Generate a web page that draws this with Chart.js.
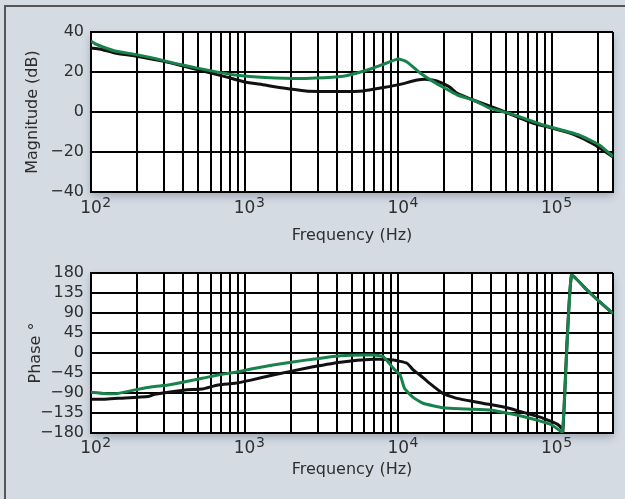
<!DOCTYPE html>
<html>
<head>
<meta charset="utf-8">
<script src="https://cdn.jsdelivr.net/npm/chart.js@4.4.0/dist/chart.umd.min.js"></script>
<style>
  html, body { margin: 0; padding: 0; }
  body { width: 625px; height: 499px; background: #d4dbe3; position: relative; overflow: hidden; }
  .linea { position: absolute; background: #555; }
  #linea-sup { left: 4px; top: 5px; width: 621px; height: 2px; }
  #linea-izq { left: 4px; top: 5px; width: 2px; height: 494px; }
  canvas { position: absolute; left: 0; }
  #mag { top: 0; }
  #phase { top: 250px; }
</style>
</head>
<body>
<div class="linea" id="linea-sup"></div>
<div class="linea" id="linea-izq"></div>
<canvas id="mag" width="625" height="250"></canvas>
<canvas id="phase" width="625" height="249"></canvas>
<script>
// Datos (frecuencia en Hz)
const magFreqBlack = [100, 114, 143, 194, 303, 410, 552, 745, 1000, 1360, 1530, 2500, 4200, 5900, 8000, 10300, 13300, 15500, 17800, 21400, 24200, 30700, 46000, 75000, 100000, 137000, 186000, 250000]
const magBlack = [32, 31.5, 29.5, 28, 25.2, 22.7, 20.2, 17.7, 15, 13.5, 12.7, 10.5, 10.2, 10.5, 12.2, 13.8, 16, 16.3, 15.5, 12.7, 9.3, 6, 1, -5.5, -8, -11, -16, -22.5]

const magFreqGreen = [100, 107, 143, 194, 260, 352, 476, 642, 866, 1360, 2500, 4200, 5400, 6900, 8400, 10000, 11400, 13900, 16900, 20000, 24200, 30700, 39600, 53000, 88000, 150000, 204000, 250000]
const magGreen = [35.5, 34, 30.5, 28.8, 26.8, 24.3, 22.2, 20.2, 18.5, 17.3, 16.8, 17.7, 19.5, 22, 24.5, 26.5, 25, 19.5, 15.2, 12, 8.5, 6, 1.8, -0.7, -6.5, -11.5, -16.5, -22.3]

const phaseFreqBlack = [100, 123, 150, 235, 260, 410, 530, 670, 866, 1100, 1530, 2500, 4200, 6900, 9300, 11400, 12500, 13900, 15500, 19500, 24200, 35500, 51000, 69000, 88000, 109000, 116000, 118000, 134000, 169000, 204000, 250000]
const phaseBlack = [-104, -104, -102, -98, -93, -83, -81, -72, -68, -61, -49.5, -34.5, -21, -14.3, -15.8, -23, -38, -50, -64.5, -90.8, -102, -113, -123, -136, -147, -160.5, -170, -177, 174, 142, 115.5, 89]

const phaseFreqGreen = [100, 120, 150, 194, 250, 318, 410, 530, 670, 866, 1100, 1530, 2500, 4200, 6900, 8000, 9300, 10300, 11000, 12500, 14500, 19500, 27900, 39800, 56000, 80000, 100000, 117000, 134000, 169000, 204000, 250000]
const phaseGreen = [-88.5, -91, -91, -83, -76, -72, -64.5, -57, -49.5, -43.5, -36, -27, -16, -6, -4.5, -8.3, -34.5, -50, -80, -100, -113, -123, -126, -128, -138, -151, -162, -178, 174, 142, 115.5, 89]

// Rejilla logarítmica y etiquetas
const gridFreqs = [100, 200, 300, 400, 500, 600, 700, 800, 900,
  1000, 2000, 3000, 4000, 5000, 6000, 7000, 8000, 9000,
  10000, 20000, 30000, 40000, 50000, 60000, 70000, 80000, 90000,
  100000, 200000, 250000]
const decades = [100, 1000, 10000, 100000]
const decadeExps = ["2", "3", "4", "5"]

const textColor = "#2e2e2e"
const fontFamily = "'DejaVu Sans', sans-serif"
const black = "#111111"
const green = "#17834a"

const fondoGrafica = {
  id: "fondoGrafica",
  beforeDraw(chart) {
    const { ctx, chartArea: a } = chart
    ctx.save()
    ctx.shadowColor = "rgba(60,70,90,0.35)"
    ctx.shadowBlur = 8
    ctx.shadowOffsetY = 4
    ctx.fillStyle = "#ffffff"
    ctx.fillRect(a.left, a.top, a.right - a.left, a.bottom - a.top)
    ctx.restore()
  }
}

// exponentes de las etiquetas 10^n
function exponentes(pad) {
  return {
    id: "exponentes",
    afterDraw(chart) {
      const { ctx } = chart
      const escala = chart.scales.x
      ctx.save()
      ctx.font = `17px ${fontFamily}`
      const ancho = ctx.measureText("10").width
      ctx.font = `14px ${fontFamily}`
      ctx.fillStyle = textColor
      ctx.textAlign = "left"
      ctx.textBaseline = "alphabetic"
      const base = escala.top + pad + 10.2 + 6.2 - 7
      decades.forEach((v, i) => {
        ctx.fillText(decadeExps[i], escala.getPixelForValue(v) + ancho / 2 + 0.5, base)
      })
      ctx.restore()
    }
  }
}

function puntos(freqs, valores) {
  return freqs.map((f, i) => ({ x: f, y: valores[i] }))
}

function serie(freqs, valores, color) {
  return {
    data: puntos(freqs, valores),
    borderColor: color,
    borderWidth: 3,
    pointRadius: 0,
    tension: 0.15,
    fill: false
  }
}

function crearGrafica(id, cfg) {
  const ctx = document.querySelector(id).getContext("2d")
  return new Chart(ctx, {
    type: "line",
    data: {
      // el primer dataset queda encima
      datasets: [
        serie(cfg.freqGreen, cfg.green, green),
        serie(cfg.freqBlack, cfg.black, black)
      ]
    },
    options: {
      responsive: false,
      animation: false,
      layout: { padding: { left: 0, right: 12, top: cfg.padTop, bottom: 0 } },
      plugins: { legend: { display: false }, tooltip: { enabled: false } },
      scales: {
        x: {
          type: "logarithmic",
          min: 100,
          max: 250000,
          afterBuildTicks: axis => { axis.ticks = gridFreqs.map(v => ({ value: v })) },
          afterFit: axis => { axis.height = cfg.xHeight },
          grid: { color: "#000", lineWidth: 2, drawTicks: false },
          border: { color: "#000", width: 2 },
          ticks: {
            autoSkip: false,
            maxRotation: 0,
            padding: cfg.xTickPad,
            color: textColor,
            font: { family: fontFamily, size: 17 },
            callback: v => decades.includes(v) ? "10" : ""
          },
          title: {
            display: true,
            text: "Frequency (Hz)",
            color: textColor,
            font: { family: fontFamily, size: 16 },
            padding: { top: 0, bottom: cfg.xTitlePad }
          }
        },
        y: {
          min: cfg.yMin,
          max: cfg.yMax,
          afterFit: axis => { axis.width = 91 },
          grid: { color: "#000", lineWidth: 2, drawTicks: false },
          border: { color: "#000", width: 2 },
          ticks: {
            stepSize: cfg.yStep,
            autoSkip: false,
            padding: 7,
            color: textColor,
            font: { family: fontFamily, size: 16 },
            callback: v => String(v).replace("-", "\u2212")
          },
          title: {
            display: true,
            text: cfg.yTitle,
            color: textColor,
            font: { family: fontFamily, size: 16 },
            padding: { top: cfg.yTitlePad, bottom: 0 }
          }
        }
      }
    },
    plugins: [fondoGrafica, exponentes(cfg.xTickPad)]
  })
}

crearGrafica("#mag", {
  freqBlack: magFreqBlack, black: magBlack,
  freqGreen: magFreqGreen, green: magGreen,
  padTop: 32, xHeight: 58, xTickPad: 6, xTitlePad: 5,
  yMin: -40, yMax: 40, yStep: 20,
  yTitle: "Magnitude (dB)", yTitlePad: 23
})

crearGrafica("#phase", {
  freqBlack: phaseFreqBlack, black: phaseBlack,
  freqGreen: phaseFreqGreen, green: phaseGreen,
  padTop: 23, xHeight: 66, xTickPad: 5, xTitlePad: 20,
  yMin: -180, yMax: 180, yStep: 45,
  yTitle: "Phase °", yTitlePad: 26
})
</script>
</body>
</html>
